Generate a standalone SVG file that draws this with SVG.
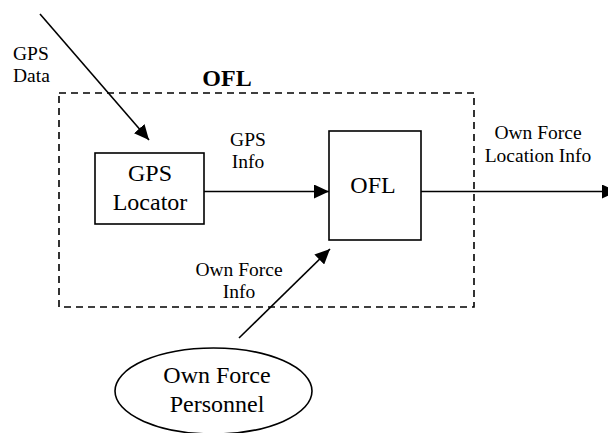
<svg xmlns="http://www.w3.org/2000/svg" width="608" height="433" viewBox="0 0 608 433">
<style>
text{font-family:"Liberation Serif","Times New Roman",serif;fill:#000}
.s{font-size:19.5px}
.b{font-size:24px}
.t{font-size:24px;font-weight:bold}
.box{fill:#fff;stroke:#000;stroke-width:1.6}
.ln{stroke:#000;stroke-width:1.6;fill:none}
.dash{fill:none;stroke:#000;stroke-width:1.6;stroke-dasharray:7 5}
</style>
<defs>
<marker id="ah" markerUnits="userSpaceOnUse" markerWidth="15" markerHeight="14" refX="15" refY="7" orient="auto">
<path d="M0,0 L15,7 L0,14 z" fill="#000"/>
</marker>
</defs>
<g id="boundary">
<rect class="dash" x="59" y="93" width="415" height="214"/>
<text class="t" x="227" y="86" text-anchor="middle">OFL</text>
</g>
<g id="gps-locator">
<rect class="box" x="95" y="153" width="109" height="71"/>
<text class="b" x="150" y="181" text-anchor="middle">GPS</text>
<text class="b" x="150" y="210" text-anchor="middle">Locator</text>
</g>
<g id="ofl">
<rect class="box" x="329" y="131" width="92" height="109"/>
<text class="b" x="373" y="193" text-anchor="middle">OFL</text>
</g>
<g id="personnel">
<ellipse cx="213.5" cy="391" rx="98.5" ry="43" fill="#fff" stroke="#000" stroke-width="1.6"/>
<text class="b" x="217" y="383" text-anchor="middle">Own Force</text>
<text class="b" x="217" y="412" text-anchor="middle">Personnel</text>
</g>
<g id="connectors">
<line class="ln" x1="40" y1="14" x2="149" y2="140" marker-end="url(#ah)"/>
<line class="ln" x1="204" y1="191.5" x2="329" y2="191.5" marker-end="url(#ah)"/>
<line class="ln" x1="421" y1="191.5" x2="617" y2="191.5" marker-end="url(#ah)"/>
<line class="ln" x1="239" y1="338" x2="330" y2="249" marker-end="url(#ah)"/>
<text class="s" x="13" y="60">GPS</text>
<text class="s" x="13" y="82">Data</text>
<text class="s" x="248" y="146" text-anchor="middle">GPS</text>
<text class="s" x="248" y="168" text-anchor="middle">Info</text>
<text class="s" x="538" y="139" text-anchor="middle">Own Force</text>
<text class="s" x="538" y="162" text-anchor="middle">Location Info</text>
<text class="s" x="239" y="276" text-anchor="middle">Own Force</text>
<text class="s" x="239" y="298" text-anchor="middle">Info</text>
</g>
</svg>
